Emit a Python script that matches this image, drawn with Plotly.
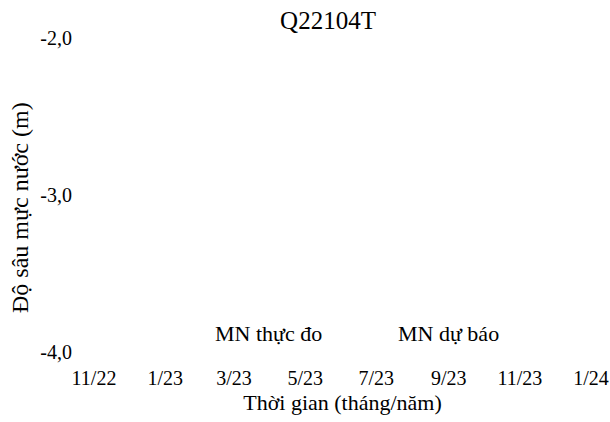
import plotly.graph_objects as go

# Data (the chart shows no visible data points)
measured_dates = ["2022-11-01"]
measured_depth = [None]
forecast_dates = ["2023-07-01"]
forecast_depth = [None]

tick_dates = ["2022-11-01", "2023-01-01", "2023-03-01", "2023-05-01",
              "2023-07-01", "2023-09-01", "2023-11-01", "2024-01-01"]
tick_labels = ["11/22", "1/23", "3/23", "5/23", "7/23", "9/23", "11/23", "1/24"]
y_ticks = [-2.0, -3.0, -4.0]
y_tick_labels = ["-2,0", "-3,0", "-4,0"]

FONT = "Liberation Serif"

W, H = 610, 422
L, R, T, B = 94, 19, 38, 70
PW, PH = W - L - R, H - T - B

fig = go.Figure()
fig.add_trace(go.Scatter(x=measured_dates, y=measured_depth, mode="lines",
                         name="MN thực đo", line=dict(color="rgba(0,0,0,0)")))
fig.add_trace(go.Scatter(x=forecast_dates, y=forecast_depth, mode="lines",
                         name="MN dự báo", line=dict(color="rgba(0,0,0,0)")))

fig.update_layout(
    width=W, height=H,
    margin=dict(l=L, r=R, t=T, b=B),
    paper_bgcolor="white", plot_bgcolor="white",
    font=dict(family=FONT, size=20, color="black"),
    title=dict(text="Q22104T", x=328/W, xanchor="center", y=1-11/H, yanchor="top",
               pad=dict(t=0, b=0), font=dict(family=FONT, size=25, color="black")),
    xaxis=dict(type="date", range=["2022-11-01", "2024-01-01"],
               tickvals=tick_dates, ticktext=tick_labels,
               showgrid=False, zeroline=False, showline=False, ticks="",
               ticklabelstandoff=12, automargin=False,
               title=dict(text="Thời gian (tháng/năm)", standoff=6,
                          font=dict(family=FONT, size=22))),
    yaxis=dict(range=[-4, -2], tickvals=y_ticks, ticktext=y_tick_labels,
               showgrid=False, zeroline=False, showline=False, ticks="",
               ticklabelstandoff=21, automargin=False),
    legend=dict(orientation="h", x=(175-L)/PW, xanchor="left",
                y=(H-B-333)/PH, yanchor="middle",
                bgcolor="rgba(0,0,0,0)", font=dict(family=FONT, size=22),
                itemwidth=30, entrywidthmode="pixels", entrywidth=138),
    showlegend=True,
    annotations=[dict(text="Độ sâu mực nước (m)", textangle=-90,
                      xref="paper", yref="paper",
                      x=(20-L)/PW, y=(H-B-208)/PH,
                      xanchor="center", yanchor="middle", showarrow=False,
                      font=dict(family=FONT, size=24, color="black"))],
)

fig.write_html("out.html",
               config={"displayModeBar": False},
               post_script="document.body.style.margin='0px';document.body.style.overflow='hidden';")
